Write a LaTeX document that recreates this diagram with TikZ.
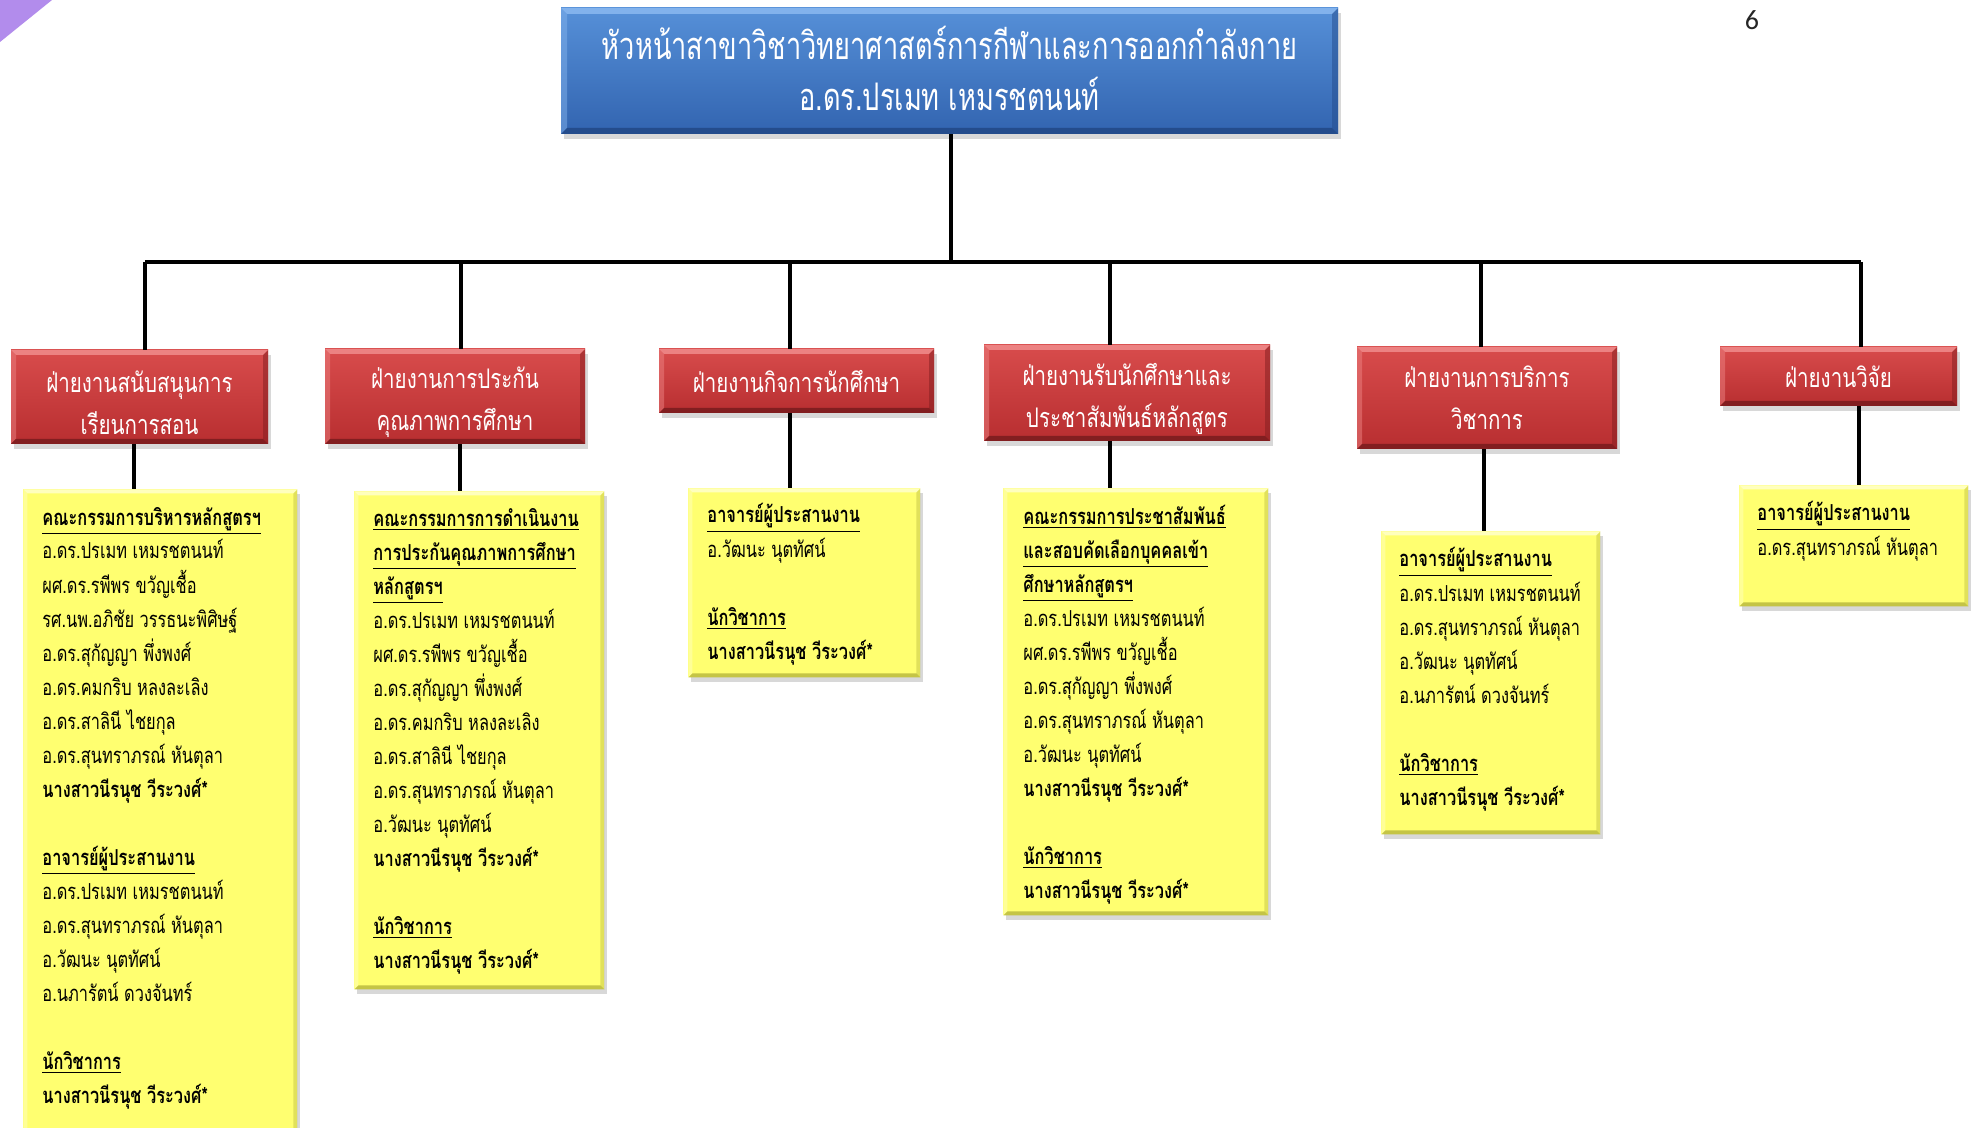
\documentclass[tikz,border=0pt]{standalone}
\usepackage{fontspec}
\newfontfamily\thaiY[Script=Thai,FakeStretch=0.745]{Loma}
\newfontfamily\thaiR[Script=Thai,FakeStretch=0.76]{Loma}
\newfontfamily\thaiB[Script=Thai,FakeStretch=0.715]{Loma}
\newfontfamily\numF{Carlito}
\usetikzlibrary{shadows,calc}
\definecolor{bluetop}{RGB}{86,144,216}
\definecolor{bluebot}{RGB}{50,100,176}
\definecolor{bluelt}{RGB}{130,178,236}
\definecolor{bluedk}{RGB}{36,76,140}
\definecolor{redtop}{RGB}{216,76,76}
\definecolor{redbot}{RGB}{184,46,48}
\definecolor{redlt}{RGB}{236,130,130}
\definecolor{reddk}{RGB}{130,30,32}
\definecolor{yel}{RGB}{255,255,112}
\definecolor{yellt}{RGB}{255,255,190}
\definecolor{yeldk}{RGB}{196,196,70}
\definecolor{purp}{RGB}{178,140,236}
\newcommand{\yfont}{\thaiY\fontsize{11}{17}\selectfont}
\newcommand{\rfont}{\thaiR\fontsize{13.5}{21}\selectfont}
\newcommand{\bfont}{\thaiB\fontsize{19}{25.5}\selectfont}
\newcommand{\hdline}[1]{\underline{\textbf{#1}}}
\newcommand{\ylines}[4]{%
  \foreach [count=\i] \lineTxt in {#4} {%
    \node[ytext] (#1l\i) at ($(#1.north west)+(#2,{#3+34*(\i-1)})$) {\lineTxt};
  }}
\tikzset{
  bevel/.style n args={3}{path picture={
      \coordinate (bvsw) at (path picture bounding box.south west);
      \coordinate (bvne) at (path picture bounding box.north east);
      \coordinate (bvnw) at (path picture bounding box.north west);
      \coordinate (bvse) at (path picture bounding box.south east);
      \coordinate (ibsw) at ($(bvsw)+(#3,#3)$);
      \coordinate (ibne) at ($(bvne)+(-#3,-#3)$);
      \coordinate (ibnw) at ($(bvnw)+(#3,-#3)$);
      \coordinate (ibse) at ($(bvse)+(-#3,#3)$);
      \fill[#1] (bvnw)--(bvne)--(ibne)--(ibnw)--cycle;
      \fill[#1,opacity=0.5] (bvnw)--(ibnw)--(ibsw)--(bvsw)--cycle;
      \fill[#2] (bvsw)--(bvse)--(ibse)--(ibsw)--cycle;
      \fill[#2,opacity=0.5] (bvne)--(bvse)--(ibse)--(ibne)--cycle;
    }},
  boxshadow/.style={drop shadow={shadow xshift=1.5pt,shadow yshift=-2.5pt,opacity=0.3}},
  bluebox/.style={rectangle,inner sep=0pt,top color=bluetop,bottom color=bluebot,
    bevel={bluelt}{bluedk}{3pt},boxshadow},
  bluetext/.style={inner sep=0pt,text=white,font=\bfont,align=center},
  redbox/.style={rectangle,inner sep=0pt,top color=redtop,bottom color=redbot,
    bevel={redlt}{reddk}{2.5pt},boxshadow},
  redtext/.style={inner sep=0pt,text=white,font=\rfont,align=center},
  yelbox/.style={rectangle,inner sep=0pt,anchor=north west,fill=yel,
    bevel={yellt}{yeldk}{2pt},boxshadow},
  ytext/.style={anchor=base west,inner sep=0pt,font=\yfont,text=black},
  conn/.style={line width=1.6pt,black},
}
\begin{document}
\begin{tikzpicture}[x=0.5pt,y=-0.5pt]
\useasboundingbox (0,0) rectangle (1976,1128);
\fill[white] (0,0) rectangle (1976,1128);
\fill[purp] (0,0) -- (52,0) -- (0,42) -- cycle;
\node[font=\numF\fontsize{14}{16}\selectfont,text=black!85] (pnum) at (1752,20) {6};

% top box
\node[bluebox,minimum width=388.5pt,minimum height=63pt] (top) at (949.5,71) {};
\node[bluetext] (topt) at ([yshift=1.5pt]top.center)
  {หัวหน้าสาขาวิชาวิทยาศาสตร์การกีฬาและการออกกำลังกาย\\อ.ดร.ปรเมท เหมรชตนนท์};

% division boxes
\node[redbox,minimum width=128.5pt,minimum height=47pt] (r1) at (139.5,397) {};
\node[redbox,minimum width=130pt,minimum height=47.5pt] (r2) at (455,396.5) {};
\node[redbox,minimum width=137.5pt,minimum height=32pt] (r3) at (796.5,381) {};
\node[redbox,minimum width=143pt,minimum height=48pt] (r4) at (1127,393) {};
\node[redbox,minimum width=130pt,minimum height=51pt] (r5) at (1487,398) {};
\node[redbox,minimum width=118.5pt,minimum height=29.5pt] (r6) at (1838.5,376.5) {};
\node[redtext] (r1t) at ([yshift=-3pt]r1.center) {ฝ่ายงานสนับสนุนการ\\เรียนการสอน};
\node[redtext] (r2t) at ([yshift=-3pt]r2.center) {ฝ่ายงานการประกัน\\คุณภาพการศึกษา};
\node[redtext] (r3t) at (r3.center) {ฝ่ายงานกิจการนักศึกษา};
\node[redtext] (r4t) at ([yshift=-3pt]r4.center) {ฝ่ายงานรับนักศึกษาและ\\ประชาสัมพันธ์หลักสูตร};
\node[redtext] (r5t) at (r5.center) {ฝ่ายงานการบริการ\\วิชาการ};
\node[redtext] (r6t) at (r6.center) {ฝ่ายงานวิจัย};

% yellow boxes
\node[yelbox,minimum width=137pt,minimum height=325.5pt] (y1) at (23,489) {};
\node[yelbox,minimum width=125pt,minimum height=249pt] (y2) at (354,491) {};
\node[yelbox,minimum width=116pt,minimum height=94.5pt] (y3) at (688,488) {};
\node[yelbox,minimum width=132.5pt,minimum height=213.5pt] (y4) at (1003,488) {};
\node[yelbox,minimum width=109.5pt,minimum height=151.5pt] (y5) at (1381,531) {};
\node[yelbox,minimum width=114.5pt,minimum height=60.5pt] (y6) at (1739,485) {};

\ylines{y1}{19}{36}{\hdline{คณะกรรมการบริหารหลักสูตรฯ},อ.ดร.ปรเมท เหมรชตนนท์,ผศ.ดร.รพีพร ขวัญเชื้อ,รศ.นพ.อภิชัย วรรธนะพิศิษฐ์,อ.ดร.สุกัญญา พึ่งพงศ์,อ.ดร.คมกริบ หลงละเลิง,อ.ดร.สาลินี ไชยกุล,อ.ดร.สุนทราภรณ์ หันตุลา,\textbf{นางสาวนีรนุช วีระวงศ์*},{},\hdline{อาจารย์ผู้ประสานงาน},อ.ดร.ปรเมท เหมรชตนนท์,อ.ดร.สุนทราภรณ์ หันตุลา,อ.วัฒนะ นุตทัศน์,อ.นภารัตน์ ดวงจันทร์,{},\hdline{นักวิชาการ},\textbf{นางสาวนีรนุช วีระวงศ์*}}
\ylines{y2}{19}{35}{\hdline{คณะกรรมการการดำเนินงาน},\hdline{การประกันคุณภาพการศึกษา},\hdline{หลักสูตรฯ},อ.ดร.ปรเมท เหมรชตนนท์,ผศ.ดร.รพีพร ขวัญเชื้อ,อ.ดร.สุกัญญา พึ่งพงศ์,อ.ดร.คมกริบ หลงละเลิง,อ.ดร.สาลินี ไชยกุล,อ.ดร.สุนทราภรณ์ หันตุลา,อ.วัฒนะ นุตทัศน์,\textbf{นางสาวนีรนุช วีระวงศ์*},{},\hdline{นักวิชาการ},\textbf{นางสาวนีรนุช วีระวงศ์*}}
\ylines{y3}{19}{35}{\hdline{อาจารย์ผู้ประสานงาน},อ.วัฒนะ นุตทัศน์,{},\hdline{นักวิชาการ},\textbf{นางสาวนีรนุช วีระวงศ์*}}
\ylines{y4}{20}{36}{\hdline{คณะกรรมการประชาสัมพันธ์},\hdline{และสอบคัดเลือกบุคคลเข้า},\hdline{ศึกษาหลักสูตรฯ},อ.ดร.ปรเมท เหมรชตนนท์,ผศ.ดร.รพีพร ขวัญเชื้อ,อ.ดร.สุกัญญา พึ่งพงศ์,อ.ดร.สุนทราภรณ์ หันตุลา,อ.วัฒนะ นุตทัศน์,\textbf{นางสาวนีรนุช วีระวงศ์*},{},\hdline{นักวิชาการ},\textbf{นางสาวนีรนุช วีระวงศ์*}}
\ylines{y5}{18}{36}{\hdline{อาจารย์ผู้ประสานงาน},อ.ดร.ปรเมท เหมรชตนนท์,อ.ดร.สุนทราภรณ์ หันตุลา,อ.วัฒนะ นุตทัศน์,อ.นภารัตน์ ดวงจันทร์,{},\hdline{นักวิชาการ},\textbf{นางสาวนีรนุช วีระวงศ์*}}
\ylines{y6}{18}{36}{\hdline{อาจารย์ผู้ประสานงาน},อ.ดร.สุนทราภรณ์ หันตุลา}

% connectors
\coordinate (bus) at (951,262);
\coordinate (d1) at (145,262);
\coordinate (d2) at (461,262);
\coordinate (d3) at (790,262);
\coordinate (d4) at (1110,262);
\coordinate (d5) at (1481,262);
\coordinate (d6) at (1861,262);
\draw[conn] (top.south -| bus) -- (bus);
\draw[conn] (d1) -- (d6);
\foreach \k in {1,...,6} {\draw[conn] (d\k) -- (d\k |- r\k.north);}
\coordinate (l1) at (134,0);
\coordinate (l2) at (460,0);
\coordinate (l3) at (790,0);
\coordinate (l4) at (1110,0);
\coordinate (l5) at (1484,0);
\coordinate (l6) at (1859,0);
\foreach \k in {1,...,6} {\draw[conn] (l\k |- r\k.south) -- (l\k |- y\k.north);}
\end{tikzpicture}
\end{document}
